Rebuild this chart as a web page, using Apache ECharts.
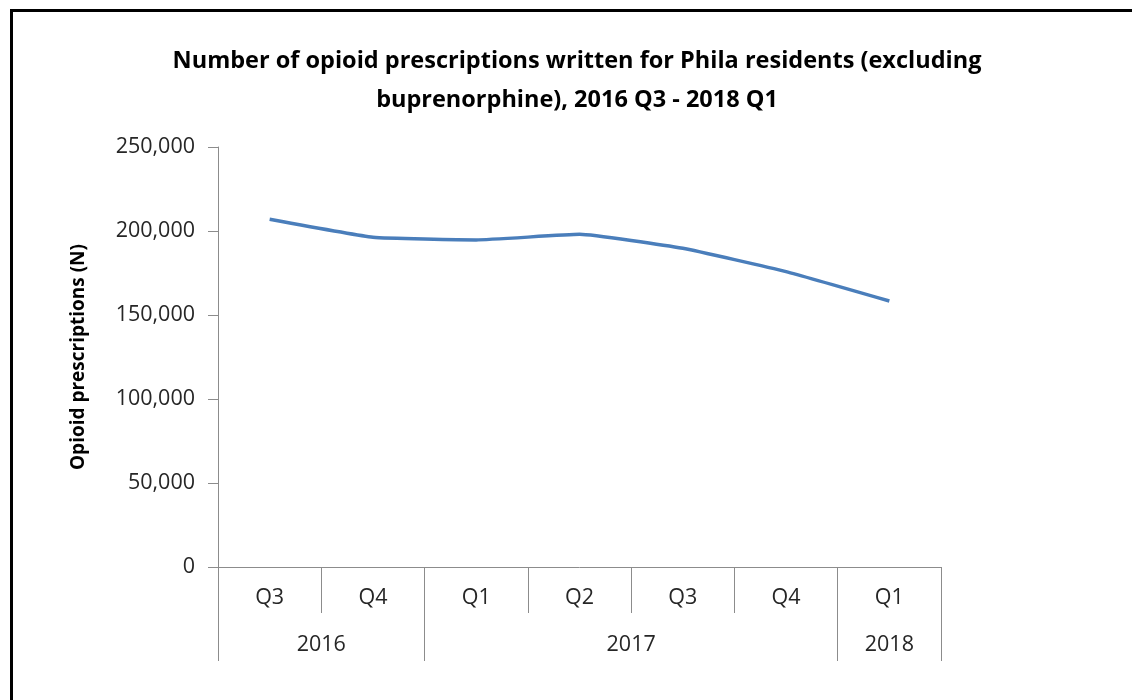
<!DOCTYPE html>
<html>
<head>
<meta charset="utf-8">
<script src="https://cdn.jsdelivr.net/npm/echarts@6/dist/echarts.min.js"></script>
<style>html,body{margin:0;padding:0;background:#fff;}#c{width:1132px;height:700px;}</style>
</head>
<body>
<div id="c"></div>
<script>
const quarters = ['Q3','Q4','Q1','Q2','Q3','Q4','Q1'];
const years = ['2016','2017','2018'];
const yearSpans = [2, 4, 1];
const prescriptions = [207000, 196300, 194700, 198000, 189700, 175800, 158300];
const yTicks = [0, 50000, 100000, 150000, 200000, 250000];

const FONT = '"Open Sans", "Liberation Sans", sans-serif';
const AXIS_GRAY = '#8c8c8c';
const TEXT = '#262626';

// year boundaries and centres derived from spans
const boundaries = [0];
const centres = [];
yearSpans.forEach(s => { const b = boundaries[boundaries.length - 1]; centres.push(b + s / 2); boundaries.push(b + s); });

const chart = echarts.init(document.getElementById('c'), null, {renderer: 'canvas'});
chart.setOption({
  animation: false,
  backgroundColor: '#fff',
  title: {
    text: 'Number of opioid prescriptions written for Phila residents (excluding\nbuprenorphine), 2016 Q3 - 2018 Q1',
    left: 572,
    top: 37,
    textAlign: 'center',
    textStyle: {fontFamily: FONT, fontWeight: 'bold', fontSize: 23.5, lineHeight: 39, color: '#000'}
  },
  graphic: [{
    type: 'rect', shape: {x: 11.5, y: 10.5, width: 1300, height: 900},
    style: {fill: 'none', stroke: '#000', lineWidth: 3}, silent: true
  }],
  grid: {left: 218, right: 191, top: 147, bottom: 133, containLabel: false},
  xAxis: [{
    type: 'category',
    data: quarters,
    boundaryGap: true,
    axisLine: {lineStyle: {color: AXIS_GRAY, width: 1}},
    axisTick: {show: true, interval: 0, length: 46, lineStyle: {color: AXIS_GRAY}},
    axisLabel: {interval: 0, margin: 20, fontFamily: FONT, fontSize: 21.5, color: TEXT}
  }, {
    type: 'value',
    min: 0, max: quarters.length,
    position: 'bottom',
    axisLine: {show: false},
    splitLine: {show: false},
    axisTick: {show: true, length: 94, customValues: boundaries, lineStyle: {color: AXIS_GRAY}},
    axisLabel: {
      customValues: centres, margin: 67, fontFamily: FONT, fontSize: 21.5, color: TEXT,
      formatter: v => { const i = centres.indexOf(v); return i >= 0 ? years[i] : ''; }
    }
  }],
  yAxis: {
    type: 'value',
    min: yTicks[0], max: yTicks[yTicks.length - 1], interval: yTicks[1] - yTicks[0],
    name: 'Opioid prescriptions (N)',
    nameLocation: 'middle',
    nameGap: 130,
    nameRotate: 90,
    nameTextStyle: {fontFamily: FONT, fontWeight: 'bold', fontSize: 19, color: '#000'},
    axisLine: {show: true, lineStyle: {color: AXIS_GRAY, width: 1}},
    axisTick: {show: true, length: 10, lineStyle: {color: AXIS_GRAY}},
    splitLine: {show: false},
    axisLabel: {margin: 23, fontFamily: FONT, fontSize: 21.5, color: TEXT,
      formatter: v => v.toLocaleString('en-US')}
  },
  series: [{
    type: 'line',
    data: prescriptions,
    xAxisIndex: 0,
    smooth: 0.12,
    symbol: 'none',
    lineStyle: {color: '#4a7ebb', width: 3.5}
  }]
});
</script>
</body>
</html>
